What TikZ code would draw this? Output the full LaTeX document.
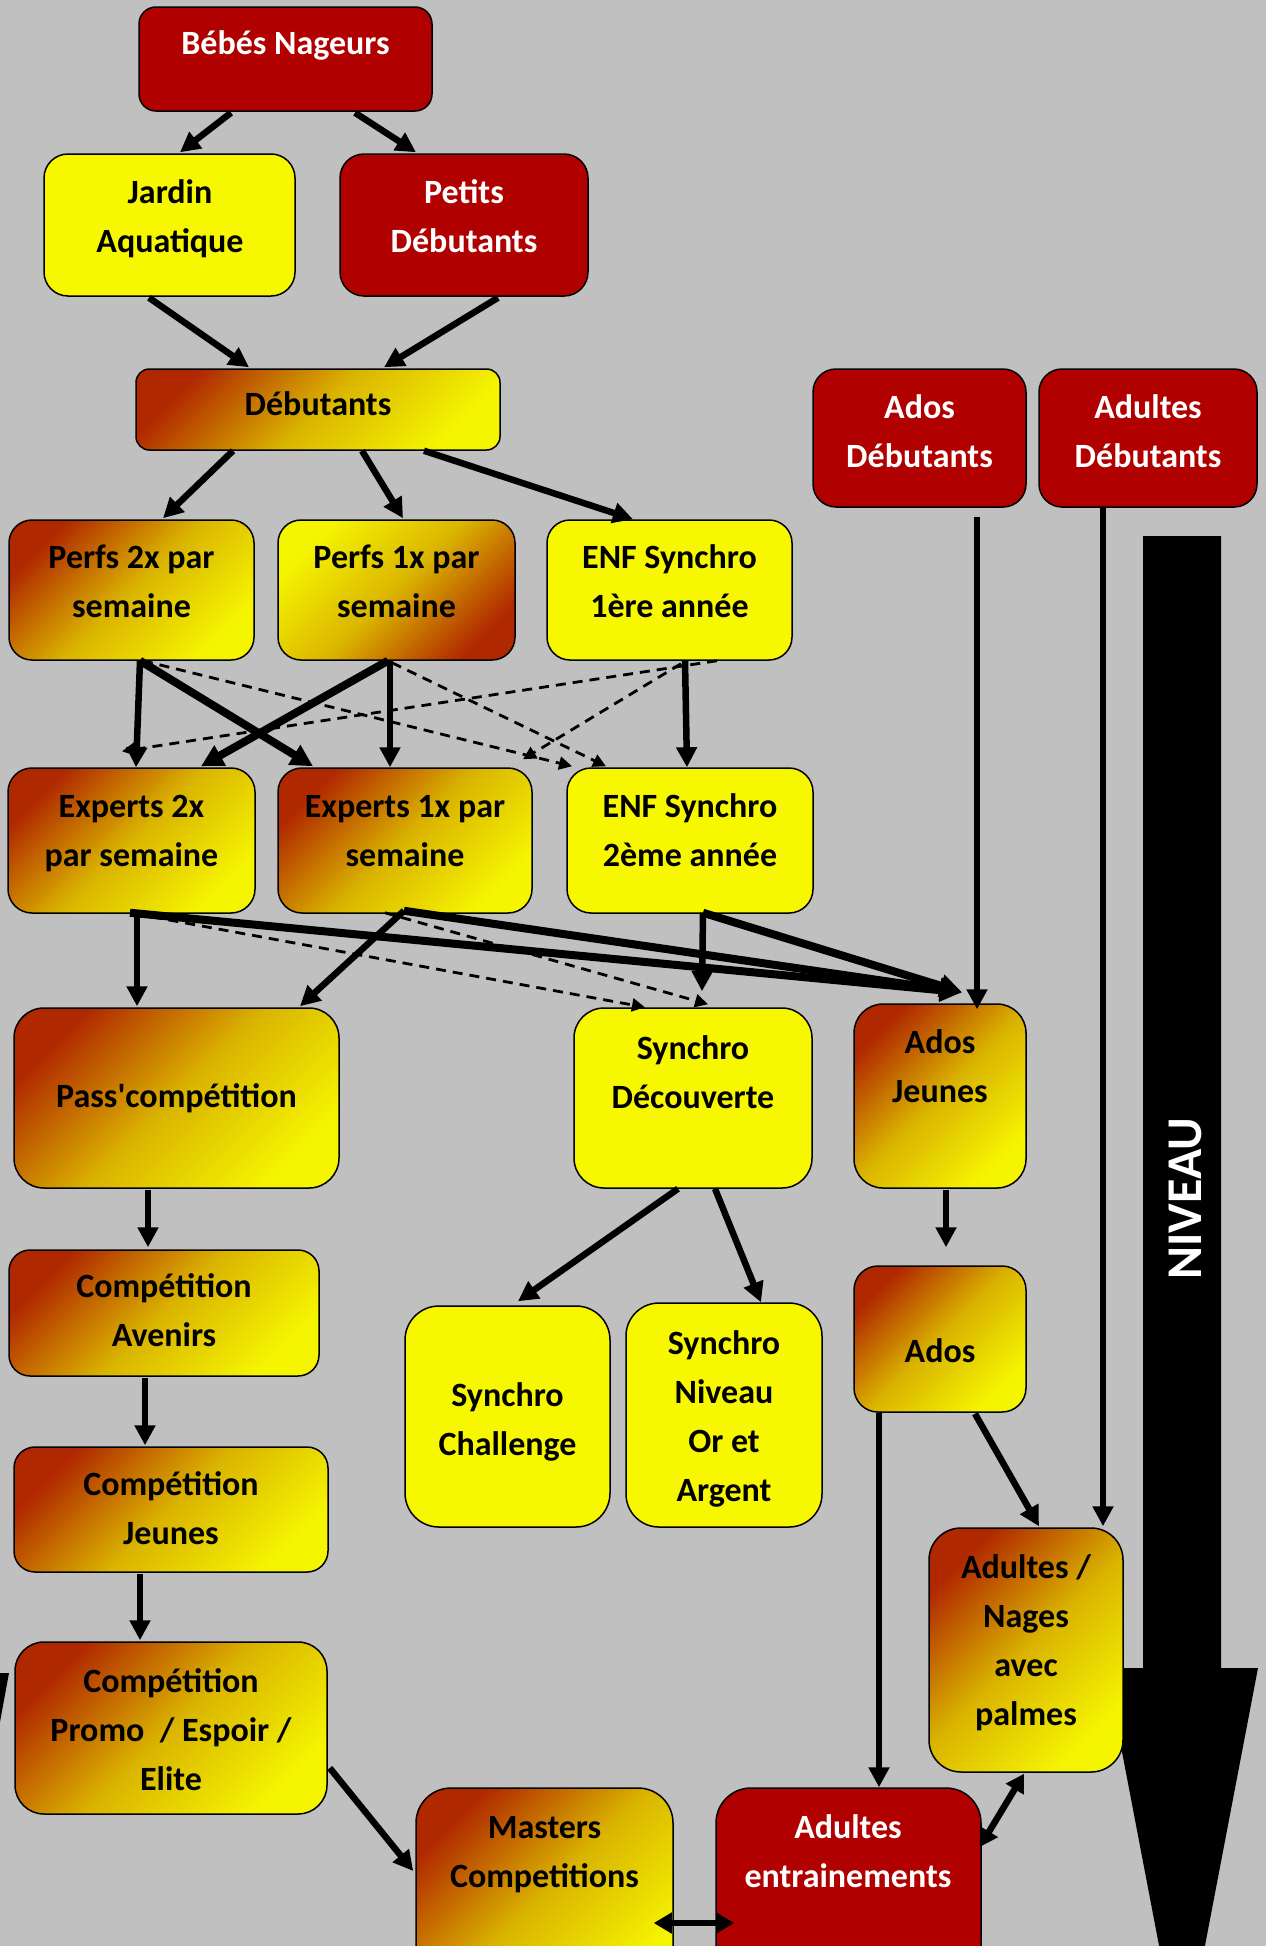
\documentclass[tikz,border=0pt]{standalone}
\usepackage{fontspec}
\setmainfont{Carlito}
\usetikzlibrary{arrows.meta,calc}
\definecolor{bg}{RGB}{192,192,192}
\definecolor{rd}{RGB}{176,0,0}
\definecolor{yl}{RGB}{247,247,0}
\definecolor{gR}{RGB}{176,40,0}
\definecolor{gM}{RGB}{218,180,0}
\definecolor{gY}{RGB}{245,245,0}
\begin{document}
\begin{tikzpicture}[x=1pt,y=-1pt,
  box/.style={draw=black, line width=1.5pt, rectangle, inner sep=0pt},
  redbox/.style={box, fill=rd},
  ylbox/.style={box, fill=yl},
  grbox/.style={box, top color=gR, bottom color=gY, middle color=gM, shading angle=45},
  grrev/.style={box, top color=gY, bottom color=gR, middle color=gM, shading angle=45},
  txt/.style={align=center, inner sep=0pt, font=\bfseries\fontsize{34}{49}\selectfont},
  wtxt/.style={txt, text=white},
  con/.style={line width=6.5pt, -{Triangle[length=20pt,width=20pt]}},
  conb/.style={line width=8pt, -{Triangle[length=22pt,width=22pt]}},
  dsh/.style={line width=2.8pt, dash pattern=on 10pt off 7pt, -{Triangle[length=13pt,width=13pt]}},
  dbl/.style={line width=6.5pt, {Triangle[length=18pt,width=20pt]}-{Triangle[length=18pt,width=20pt]}},
]
\useasboundingbox (0,0) rectangle (1266,1946);
\fill[bg] (0,0) rectangle (1266,1946);
\clip (0,0) rectangle (1266,1946);

% big level arrow
\fill[black] (1143,536) -- (1221,536) -- (1221,1668) -- (1258,1668) -- (1182,2066) -- (1106,1668) -- (1143,1668) -- cycle;
\node[rotate=90, text=white, inner sep=0pt, font=\bfseries\fontsize{50}{60}\selectfont] (niveau) at (1185,1198.5) {NIVEAU};
% sliver at left edge
\fill[black] (0,1673) -- (9,1673) -- (0,1722) -- cycle;

% boxes
\node[redbox, minimum width=293pt, minimum height=104pt, rounded corners=17pt] (bebes) at (285.5,59) {};
\node[ylbox, minimum width=251pt, minimum height=142pt, rounded corners=24pt] (jardin) at (169.5,225) {};
\node[redbox, minimum width=248pt, minimum height=142pt, rounded corners=24pt] (petits) at (464,225) {};
\node[grbox, minimum width=364pt, minimum height=81pt, rounded corners=13.5pt] (debut) at (318,409.5) {};
\node[redbox, minimum width=213pt, minimum height=138pt, rounded corners=23pt] (adosdeb) at (919.5,438) {};
\node[redbox, minimum width=218pt, minimum height=138pt, rounded corners=23pt] (adudeb) at (1148,438) {};
\node[grbox, minimum width=245pt, minimum height=140pt, rounded corners=23pt] (perfs2) at (131.5,590) {};
\node[grrev, minimum width=237pt, minimum height=140pt, rounded corners=23pt] (perfs1) at (396.5,590) {};
\node[ylbox, minimum width=245pt, minimum height=140pt, rounded corners=23pt] (enf1) at (669.5,590) {};
\node[grbox, minimum width=247pt, minimum height=145pt, rounded corners=24pt] (exp2) at (131.5,840.5) {};
\node[grbox, minimum width=254pt, minimum height=145pt, rounded corners=24pt] (exp1) at (405,840.5) {};
\node[ylbox, minimum width=246pt, minimum height=145pt, rounded corners=24pt] (enf2) at (690,840.5) {};
\node[grbox, minimum width=325pt, minimum height=180pt, rounded corners=30pt] (pass) at (176.5,1098) {};
\node[ylbox, minimum width=238pt, minimum height=180pt, rounded corners=30pt] (synD) at (693,1098) {};
\node[grbox, minimum width=172pt, minimum height=184pt, rounded corners=29pt] (adosJ) at (940,1096) {};
\node[grbox, minimum width=310pt, minimum height=126pt, rounded corners=21pt] (aven) at (164,1313) {};
\node[ylbox, minimum width=205pt, minimum height=221pt, rounded corners=34pt] (chal) at (507.5,1416.5) {};
\node[ylbox, minimum width=196pt, minimum height=224pt, rounded corners=33pt] (niv) at (724,1415) {};
\node[grbox, minimum width=172pt, minimum height=146pt, rounded corners=24pt] (ados) at (940,1339) {};
\node[grbox, minimum width=314pt, minimum height=125pt, rounded corners=21pt] (cjeu) at (171,1509.5) {};
\node[grbox, minimum width=312pt, minimum height=172pt, rounded corners=29pt] (promo) at (171,1728) {};
\node[grbox, minimum width=194pt, minimum height=244pt, rounded corners=32pt] (nages) at (1026,1650) {};
\node[grbox, minimum width=257pt, minimum height=212pt, rounded corners=35pt] (masters) at (544.5,1894) {};
\node[redbox, minimum width=265pt, minimum height=212pt, rounded corners=35pt] (adEnt) at (848.5,1894) {};

% texts
\node[wtxt] (bebesT) at (285.5,45) {\strut Bébés Nageurs\strut};
\node[txt] (jardinT) at (170,218) {\strut Jardin\\Aquatique\strut};
\node[wtxt] (petitsT) at (464,218) {\strut Petits\\Débutants\strut};
\node[txt] (debutT) at (318,406) {\strut Débutants\strut};
\node[wtxt] (adosdebT) at (919.5,433) {\strut Ados\\Débutants\strut};
\node[wtxt] (adudebT) at (1148,433) {\strut Adultes\\Débutants\strut};
\node[txt] (perfs2T) at (131.5,583) {\strut Perfs 2x par\\semaine\strut};
\node[txt] (perfs1T) at (396.5,583) {\strut Perfs 1x par\\semaine\strut};
\node[txt] (enf1T) at (669.5,583) {\strut ENF Synchro\\1ère année\strut};
\node[txt] (exp2T) at (131.5,832) {\strut Experts 2x\\par semaine\strut};
\node[txt] (exp1T) at (405,832) {\strut Experts 1x par\\semaine\strut};
\node[txt] (enf2T) at (690,832) {\strut ENF Synchro\\2ème année\strut};
\node[txt] (passT) at (176.5,1098) {\strut Pass\textquotesingle compétition\strut};
\node[txt] (synDT) at (693,1074.5) {\strut Synchro\\Découverte\strut};
\node[txt] (adosJT) at (940,1068) {\strut Ados\\Jeunes\strut};
\node[txt] (avenT) at (164,1312.5) {\strut Compétition\\Avenirs\strut};
\node[txt] (chalT) at (507.5,1421) {\strut Synchro\\Challenge\strut};
\node[txt] (nivT) at (724,1418) {\strut Synchro\\Niveau\\Or et\\Argent\strut};
\node[txt] (adosT) at (940,1353) {\strut Ados\strut};
\node[txt] (cjeuT) at (171,1510) {\strut Compétition\\Jeunes\strut};
\node[txt] (promoT) at (171,1731.5) {\strut Compétition\\Promo\ \ / Espoir /\\Elite\strut};
\node[txt] (nagesT) at (1026,1642.5) {\strut Adultes /\\Nages\\avec\\palmes\strut};
\node[txt] (mastersT) at (544.5,1853) {\strut Masters\\Competitions\strut};
\node[wtxt] (adEntT) at (848,1853) {\strut Adultes\\entrainements\strut};

% connectors
\draw[con] ($(bebes.south)+(-54.5,1)$) -- ($(jardin.north)+(10.5,-1)$);
\draw[con] ($(bebes.south)+(69.5,1)$) -- ($(petits.north)+(-48,-1)$);
\draw[con] ($(jardin.south)+(-20.5,1)$) -- ($(debut.north)+(-69,-1)$);
\draw[con] ($(petits.south)+(34,1)$) -- ($(debut.north)+(66,-1)$);
\draw[con] ($(debut.south)+(-85,0)$) -- ($(perfs2.north)+(31.5,-1)$);
\draw[con] ($(debut.south)+(44,0)$) -- ($(perfs1.north)+(6.5,-1)$);
\draw[con] ($(debut.south)+(106,0)$) -- ($(enf1.north)+(-36.5,0)$);
\draw[con] ($(perfs2.south)+(8.5,0)$) -- ($(exp2.north)+(4.5,0)$);
\draw[conb] ($(perfs2.south)+(8.5,0)$) -- ($(exp1.north)+(-92,-1)$);
\draw[conb] ($(perfs1.south)+(-8.5,0)$) -- ($(exp2.north)+(69.5,-1)$);
\draw[con] ($(perfs1.south)+(-6.5,0)$) -- ($(exp1.north)+(-15,0)$);
\draw[con] ($(enf1.south)+(15.5,0)$) -- ($(enf2.north)+(-3,0)$);
\draw[dsh] ($(perfs2.south)+(11.5,0)$) -- ($(enf2.north)+(-118,-1)$);
\draw[dsh] ($(perfs1.south)+(-4.5,2)$) -- ($(enf2.north)+(-84,-1)$);
\draw[dsh] ($(enf1.south)+(47.5,0)$) -- ($(exp2.north)+(-9.5,-16)$);
\draw[dsh] ($(enf1.south)+(11.5,3)$) -- ($(exp1.north)+(118,-8)$);

\draw[con] ($(exp2.south)+(5.5,0)$) -- ($(pass.north)+(-39.5,-1)$);
\draw[con] ($(exp1.south)+(-1,-3)$) -- ($(pass.north)+(123.5,-1)$);
\draw[dsh] ($(exp2.south)+(3.5,0)$) -- ($(synD.north)+(-48,0)$);
\draw[dsh] ($(exp1.south)+(-20,-1)$) -- ($(synD.north)+(15,-3)$);
\draw[conb] ($(exp2.south)+(-1.5,-1)$) -- ($(adosJ.north)+(22,-11)$);
\draw[conb] ($(exp1.south)+(-1,-3)$) -- ($(adosJ.north)+(22,-11)$);
\draw[con] ($(enf2.south)+(13,-1)$) -- ($(synD.north)+(9,-16)$);
\draw[conb] ($(enf2.south)+(13,-1)$) -- ($(adosJ.north)+(22,-11)$);
\draw[con] ($(adosdeb.south)+(57.5,9)$) -- ($(adosJ.north)+(37,6)$);

\draw[con] ($(pass.south)+(-28.5,1)$) -- ($(aven.north)+(-16,-2)$);
\draw[con] ($(synD.south)+(-15,0)$) -- ($(chal.north)+(10.5,-4)$);
\draw[con] ($(synD.south)+(22,0)$) -- ($(niv.north)+(37,0)$);
\draw[con] ($(adosJ.south)+(6,1)$) -- ($(ados.north)+(6,-18)$);
\draw[con] ($(ados.south)+(35,1)$) -- ($(nages.north)+(13,-1)$);
\draw[con] ($(adudeb.south)+(-45,0)$) -- ($(nages.north)+(77,-1)$);
\draw[con] ($(ados.south)+(-61,0)$) -- ($(adEnt.north)+(30.5,0)$);
\draw[con] ($(aven.south)+(-19,1)$) -- ($(cjeu.north)+(-26,-1)$);
\draw[con] ($(cjeu.south)+(-31,1)$) -- ($(promo.north)+(-31,-1)$);
\draw[con] ($(promo.east)+(2,40)$) -- ($(masters.west)+(-2,-23)$);
\draw[dbl] ($(masters.east)+(-20,29)$) -- ($(adEnt.west)+(19,29)$);
\draw[dbl] ($(adEnt.east)+(-2,-47)$) -- ($(nages.south)+(-2,1)$);
\end{tikzpicture}
\end{document}
